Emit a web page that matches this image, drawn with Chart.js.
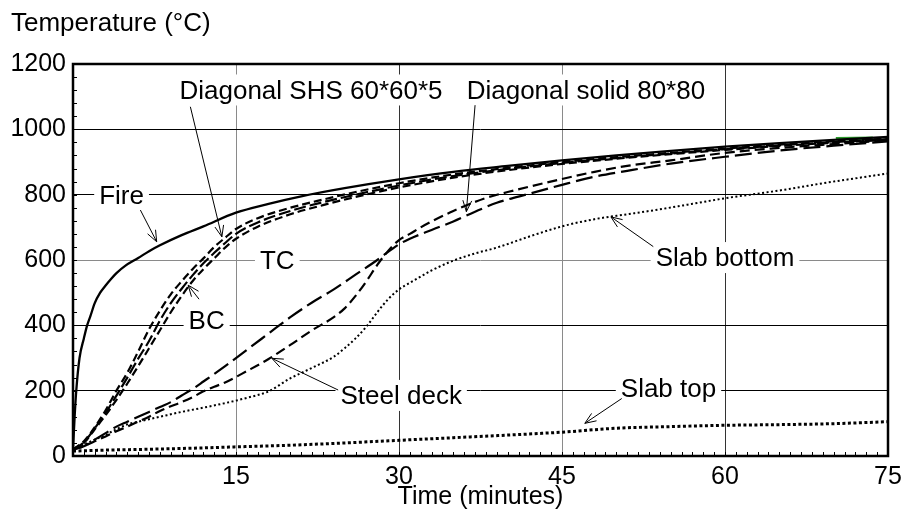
<!DOCTYPE html>
<html>
<head>
<meta charset="utf-8">
<script src="https://cdn.jsdelivr.net/npm/chart.js@4.4.1/dist/chart.umd.min.js"></script>
<style>
  html, body { margin: 0; padding: 0; background: #fff; }
  #wrap { width: 902px; height: 519px; }
</style>
</head>
<body>
<div id="wrap"><canvas id="c" width="902" height="519"></canvas></div>
<script>
// ---- measured temperatures (°C) against time (minutes) ----
const fireTime = [0, 0.15, 0.3, 0.6, 1, 1.3, 1.6, 2, 2.5, 3, 3.5, 4, 4.8, 6, 7, 8, 10, 12, 15, 18, 21, 25, 30, 35, 40, 45, 50, 55, 60, 65, 70, 75];
const fireTemp = [20, 120, 200, 300, 360, 400, 428, 468, 500, 522, 542, 560, 582, 606, 627, 645, 676, 703, 745, 772, 795, 820, 847, 870, 888, 905, 920, 934, 947, 958, 968, 977];

const shsTime = [0, 1, 2, 3, 4, 5, 6, 7, 8, 9, 10, 11, 12, 13, 14, 15, 17, 20, 23, 26, 30, 35, 40, 45, 50, 55, 60, 65, 70, 75];
const shsTC   = [20, 45, 88, 140, 200, 255, 320, 388, 445, 495, 535, 572, 605, 640, 668, 695, 728, 760, 785, 808, 835, 862, 882, 900, 915, 928, 941, 953, 963, 972];
const shsMid  = [20, 42, 85, 132, 185, 240, 298, 352, 415, 468, 512, 553, 590, 622, 652, 680, 715, 750, 777, 800, 828, 857, 879, 897, 912, 926, 939, 951, 961, 970];
const shsBC   = [20, 40, 82, 125, 172, 222, 275, 330, 385, 440, 490, 535, 572, 605, 638, 665, 702, 740, 768, 793, 822, 852, 875, 894, 910, 924, 937, 949, 959, 968];

const solidTime = [0, 1, 2, 3, 4, 5, 6, 7, 8, 9, 10, 11, 12, 14, 16, 18, 20, 22, 24, 26, 28, 30, 31, 33, 35, 37, 39, 42, 45, 48, 51, 55, 60, 65, 70, 75];
const solidTemp = [20, 30, 50, 70, 90, 105, 120, 135, 150, 165, 185, 205, 228, 275, 325, 375, 425, 470, 510, 555, 600, 648, 665, 692, 718, 748, 775, 803, 830, 855, 873, 895, 916, 935, 950, 963];

const deckTime = [0, 1, 2, 3, 4, 5, 6, 7, 8, 9, 10, 11, 12, 13, 14, 16, 18, 20, 22, 24, 25, 26, 27, 28, 29, 30, 31, 32, 33, 35, 38, 40, 42.3, 45, 48, 51, 55, 60, 65, 70, 75];
const deckTemp = [20, 30, 45, 60, 76, 90, 105, 120, 138, 152, 165, 180, 198, 212, 225, 260, 297, 340, 385, 425, 452, 490, 535, 585, 628, 661, 680, 700, 718, 750, 790, 808, 827, 848, 870, 888, 905, 928, 943, 955, 966];

const slabBottomTime = [0, 1, 2, 3, 4, 5, 6, 8, 10, 12, 14, 16, 18, 20, 21, 22, 24, 25, 26, 27, 28, 29, 30, 31, 33, 35, 37, 39, 42, 45, 48, 51, 54, 57, 60, 63, 66, 69, 72, 75];
const slabBottomTemp = [20, 35, 50, 65, 82, 97, 105, 120, 135, 148, 162, 178, 198, 238, 254, 270, 304, 330, 360, 396, 440, 480, 510, 530, 568, 598, 620, 638, 672, 703, 725, 740, 755, 772, 789, 803, 818, 835, 850, 865];

const slabTopTime = [0, 3, 6, 10, 15, 20, 25, 30, 35, 40, 45, 50, 55, 60, 65, 70, 75];
const slabTopTemp = [15, 18, 20, 23, 28, 33, 40, 48, 56, 64, 73, 85, 90, 94, 96, 99, 105];

const extraGreenTime = [70.2, 73.6];
const extraGreenTemp = [971, 973];
const extraPurpleTime = [0, 0.4];
const extraPurpleTemp = [22, 22];

// ---- axes ----
const xMax = 75, xLabelStep = 15, xMinorStep = 1;
const yMax = 1200, yLabelStep = 200, yMinorStep = 40;

// ---- callouts (text, text centre, arrow tail, arrow tip), all in data units ----
const callouts = [
  { text: 'Fire',                 at: [4.47, 801],  from: [6.2, 753],   to: [7.7, 656] },
  { text: 'Diagonal SHS 60*60*5', at: [21.9, 1122], from: [10.8, 1069], to: [13.7, 671] },
  { text: 'Diagonal solid 80*80', at: [47.2, 1122], from: [37.0, 1074], to: [36.2, 748] },
  { text: 'TC',                   at: [18.8, 600] },
  { text: 'BC',                   at: [12.3, 416],  from: [11.6, 480],  to: [10.6, 523] },
  { text: 'Steel deck',           at: [30.2, 187],  from: [24.4, 202],  to: [18.3, 299] },
  { text: 'Slab bottom',          at: [60.0, 609],  from: [53.4, 641],  to: [49.5, 732] },
  { text: 'Slab top',             at: [54.8, 208],  from: [50.5, 176],  to: [47.1, 100] }
];

const FONT_FAMILY = '"Liberation Sans", Arial, Helvetica, sans-serif';
const pts = (xs, ys) => xs.map((x, i) => ({ x: x, y: ys[i] }));

function line(label, xs, ys, width, dash, color) {
  return {
    label: label,
    data: pts(xs, ys),
    borderColor: color || '#000',
    borderWidth: width,
    borderDash: dash || [],
    borderCapStyle: 'butt',
    pointRadius: 0,
    fill: false,
    cubicInterpolationMode: 'monotone'
  };
}

const datasets = [
  line('Slab top', slabTopTime, slabTopTemp, 3, [3, 2.5]),
  line('Slab bottom', slabBottomTime, slabBottomTemp, 2, [2, 2.5]),
  line('Steel deck', deckTime, deckTemp, 2.2, [10, 5]),
  line('Diagonal solid 80*80', solidTime, solidTemp, 2.2, [17, 6]),
  line('Diagonal SHS BC', shsTime, shsBC, 2.2, [8, 4]),
  line('Diagonal SHS mid', shsTime, shsMid, 2.2, [12, 4]),
  line('Diagonal SHS TC', shsTime, shsTC, 2.2, [8, 4]),
  line('Fire', fireTime, fireTemp, 2.3, []),
  line('Furnace check', extraGreenTime, extraGreenTemp, 3.5, [], '#2a9a2a'),
  line('Ambient', extraPurpleTime, extraPurpleTemp, 2, [], '#8a1a8a')
];

function drawArrow(ctx, x1, y1, x2, y2) {
  const a = Math.atan2(y2 - y1, x2 - x1), L = 12, w = 0.38;
  ctx.beginPath();
  ctx.moveTo(x1, y1);
  ctx.lineTo(x2, y2);
  ctx.moveTo(x2 - L * Math.cos(a - w), y2 - L * Math.sin(a - w));
  ctx.lineTo(x2, y2);
  ctx.lineTo(x2 - L * Math.cos(a + w), y2 - L * Math.sin(a + w));
  ctx.stroke();
}

const decorations = {
  id: 'decorations',
  afterDatasetsDraw(chart) {
    const { ctx, chartArea: ca, scales: { x, y } } = chart;
    ctx.save();

    // inward minor tick marks
    ctx.strokeStyle = '#000';
    ctx.lineWidth = 1;
    ctx.beginPath();
    x.ticks.forEach(t => {
      const px = Math.round(x.getPixelForValue(t.value)) + 0.5;
      ctx.moveTo(px, ca.bottom);
      ctx.lineTo(px, ca.bottom - 4);
    });
    y.ticks.forEach(t => {
      const py = Math.round(y.getPixelForValue(t.value)) + 0.5;
      ctx.moveTo(ca.left, py);
      ctx.lineTo(ca.left + 4, py);
    });
    ctx.stroke();

    // plot frame
    ctx.lineWidth = 2.5;
    ctx.strokeRect(ca.left, ca.top, ca.right - ca.left, ca.bottom - ca.top);

    // callout labels on white boxes
    ctx.font = '26px ' + FONT_FAMILY;
    ctx.textAlign = 'center';
    ctx.textBaseline = 'alphabetic';
    callouts.forEach(c => {
      const cx = x.getPixelForValue(c.at[0]);
      const cy = y.getPixelForValue(c.at[1]);
      const w = ctx.measureText(c.text).width;
      ctx.fillStyle = '#fff';
      ctx.fillRect(cx - w / 2 - 5, cy - 15, w + 10, 31);
      ctx.fillStyle = '#000';
      ctx.fillText(c.text, cx, cy + 9.3);
    });
    ctx.lineWidth = 1;
    ctx.strokeStyle = '#000';
    callouts.forEach(c => {
      if (!c.from) return;
      drawArrow(ctx,
        x.getPixelForValue(c.from[0]), y.getPixelForValue(c.from[1]),
        x.getPixelForValue(c.to[0]), y.getPixelForValue(c.to[1]));
    });

    // vertical axis caption
    ctx.font = '26px ' + FONT_FAMILY;
    ctx.textAlign = 'left';
    ctx.fillText('Temperature (°C)', 11, 31);
    ctx.restore();
  }
};

Chart.defaults.font.family = FONT_FAMILY;
Chart.defaults.font.size = 25;
Chart.defaults.color = '#000';

new Chart(document.getElementById('c'), {
  type: 'line',
  data: { datasets: datasets },
  options: {
    responsive: false,
    animation: false,
    devicePixelRatio: 1,
    layout: { padding: { top: 64, right: 14, left: 0, bottom: 0 } },
    plugins: { legend: { display: false }, tooltip: { enabled: false } },
    scales: {
      x: {
        type: 'linear',
        min: 0,
        max: xMax,
        afterFit: s => { s.height = 63; s.paddingLeft = 0; s.paddingRight = 0; },
        border: { display: false },
        grid: {
          drawTicks: false,
          lineWidth: 1,
          color: c => {
            const v = c.tick ? c.tick.value : -1;
            if (v % xLabelStep !== 0 || v <= 0 || v >= xMax) return 'rgba(0,0,0,0)';
            return (v / xLabelStep) % 2 === 1 ? '#8a8a8a' : '#333';
          }
        },
        ticks: {
          stepSize: xMinorStep,
          autoSkip: false,
          maxRotation: 0,
          padding: 6,
          callback: v => (v % xLabelStep === 0 && v > 0) ? String(v) : ''
        },
        title: { display: true, text: 'Time (minutes)', padding: { top: 0, bottom: 7 } }
      },
      y: {
        type: 'linear',
        min: 0,
        max: yMax,
        afterFit: s => { s.width = 73; },
        border: { display: false },
        grid: {
          drawTicks: false,
          lineWidth: 1,
          color: c => {
            const v = c.tick ? c.tick.value : -1;
            if (v % yLabelStep !== 0 || v <= 0 || v >= yMax) return 'rgba(0,0,0,0)';
            return v === 600 ? '#8a8a8a' : '#000';
          }
        },
        ticks: {
          stepSize: yMinorStep,
          autoSkip: false,
          padding: 7,
          callback: v => (v % yLabelStep === 0) ? String(v) : ''
        }
      }
    }
  },
  plugins: [decorations]
});
</script>
</body>
</html>
